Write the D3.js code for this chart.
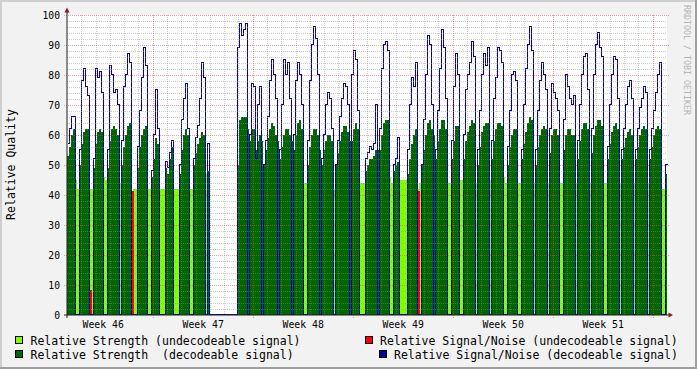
<!DOCTYPE html>
<html><head><meta charset="utf-8">
<script src="https://cdn.jsdelivr.net/npm/d3@7"></script>
<style>
html,body{margin:0;padding:0;background:#f2f2f2;}
svg{display:block;}
text{font-family:"DejaVu Sans Mono",monospace;}
</style>
</head><body>
<svg id="chart" width="697" height="369"></svg>
<script>
// ---- data (one value per RRD step of 3.36 h, 300 steps = 6 weeks) ----
const strength = [
53,56,60,62,45,42,50,57,61,62, 62,42,42,49,57,61,62,61,46,45,
49,58,62,63,62,60,44,50,56,60, 63,64,40,42,42,49,56,60,62,63,
42,42,46,52,59,57,42,42,42,49, 47,52,56,42,42,42,47,55,60,62,
60,42,42,50,54,57,59,61,60,47, 48,0,0,0,0,0,0,0,0,0,
0,0,0,0,0,50,65,66,66,66, 62,58,62,62,55,58,60,58,50,55,
59,62,64,63,60,58,52,56,60,62, 62,60,58,55,60,64,65,62,44,44,
50,56,60,62,62,60,55,50,55,58, 60,60,58,42,50,54,58,61,63,63,
61,58,58,62,64,62,44,44,44,48, 50,52,52,53,55,55,55,60,64,65,
65,46,44,48,50,51,45,45,45,45, 47,52,57,60,62,42,44,50,55,60,
64,65,62,60,52,58,62,65,65,62, 44,44,52,58,63,63,45,45,52,58,
61,63,65,64,44,50,56,61,63,64, 64,45,52,58,62,64,64,63,46,44,
50,56,60,62,62,44,44,52,57,61, 64,66,65,44,50,56,60,62,63,62,
44,54,60,62,62,60,44,44,55,60, 62,62,60,60,44,52,58,62,64,64,
62,44,54,60,63,65,65,63,44,44, 52,57,61,63,64,62,44,52,56,59,
61,62,60,44,52,56,60,62,63,62, 44,52,56,60,62,63,62,42,42,47
];
const snr = [
57,62,66,66,0,0,55,78,82,76, 73,8,0,52,82,79,81,74,0,0,
55,83,80,74,75,70,0,58,76,80, 87,84,41,0,0,56,68,79,89,83,
0,0,48,60,75,62,0,0,0,51, 49,54,58,0,0,0,50,65,72,77,
62,0,0,52,59,63,72,84,79,0, 57,0,0,0,0,0,0,0,0,0,
0,0,0,0,0,89,97,93,95,97, 0,60,77,76,52,70,76,0,50,58,
66,78,85,80,72,0,55,70,85,80, 84,72,0,60,78,84,80,70,0,0,
58,78,90,96,92,80,0,52,60,70, 74,72,62,0,50,58,66,72,77,76,
70,0,80,88,85,68,0,0,0,52, 54,56,55,57,70,0,62,82,90,91,
88,0,0,50,52,59,0,0,0,0, 55,70,79,76,84,41,0,50,65,80,
93,90,70,0,55,68,82,95,89,72, 0,0,58,76,87,80,0,0,60,75,
80,84,91,86,0,55,68,80,87,83, 89,0,58,72,79,89,88,84,0,0,
56,68,80,81,78,0,0,55,70,82, 90,96,88,0,55,68,78,84,80,75,
0,62,77,74,72,68,0,0,65,80, 76,72,70,73,0,58,70,80,86,87,
75,0,62,80,90,94,89,86,0,0, 56,70,80,86,85,72,0,55,62,70,
76,78,72,0,55,62,69,72,76,74, 0,55,62,68,74,80,84,0,0,50
];
const decodeable = [
1,1,1,1,0,0,1,1,1,1, 1,0,0,1,1,1,1,1,0,0,
1,1,1,1,1,1,0,1,1,1, 1,1,0,0,0,1,1,1,1,1,
0,0,1,1,1,1,0,0,0,1, 1,1,1,0,0,0,1,1,1,1,
1,0,0,1,1,1,1,1,1,0, 1,0,0,0,0,0,0,0,0,0,
0,0,0,0,0,1,1,1,1,1, 1,1,1,1,1,1,1,1,1,1,
1,1,1,1,1,1,1,1,1,1, 1,1,1,1,1,1,1,1,0,0,
1,1,1,1,1,1,1,1,1,1, 1,1,1,0,1,1,1,1,1,1,
1,1,1,1,1,1,0,0,0,1, 1,1,1,1,1,1,1,1,1,1,
1,0,0,1,1,1,0,0,0,0, 1,1,1,1,1,0,0,1,1,1,
1,1,1,1,1,1,1,1,1,1, 0,0,1,1,1,1,0,0,1,1,
1,1,1,1,0,1,1,1,1,1, 1,0,1,1,1,1,1,1,0,0,
1,1,1,1,1,0,0,1,1,1, 1,1,1,0,1,1,1,1,1,1,
0,1,1,1,1,1,0,0,1,1, 1,1,1,1,0,1,1,1,1,1,
1,0,1,1,1,1,1,1,0,0, 1,1,1,1,1,1,0,1,1,1,
1,1,1,0,1,1,1,1,1,1, 0,1,1,1,1,1,1,0,0,1
];
const yTickValues = [0,10,20,30,40,50,60,70,80,90,100];
const weekLabelPrefix = "Week ";
const legendLabels = [
  "Relative Strength (undecodeable signal)",
  "Relative Signal/Noise (undecodeable signal)",
  "Relative Strength  (decodeable signal)",
  "Relative Signal/Noise (decodeable signal)"
];
const startDate = new Date(2008, 10, 11);   // Tuesday of ISO week 46
const spanDays = 42;

// ---- styles ----
const C = {
  back:"#f2f2f2", canvas:"#ffffff", shadeA:"#cfcfcf", shadeB:"#9e9e9e",
  lightGreen:"#80ff00", darkGreen:"#006600", red:"#ff0000", blue:"#0000b0",
  grid:"#8f8f8f", mgrid:"#de5050", arrow:"#8b1a1a", axis:"#1f1f1f"
};
const legendColors = [C.lightGreen, C.red, C.darkGreen, "#000099"];

const W = 697, H = 369, L = 67, T = 15, PW = 600, PH = 300;
const svg = d3.select("#chart");
const endDate = d3.timeDay.offset(startDate, spanDays);
const x = d3.scaleTime().domain([startDate, endDate]).range([L, L + PW]);
const y = d3.scaleLinear().domain([0, 100]).range([T + PH, T]);
const n = strength.length;
const stepMs = (endDate - startDate) / n;
const slotTime = i => new Date(startDate.getTime() + i * stepMs);

// background + 3D frame
svg.append("rect").attr("width", W).attr("height", H).attr("fill", C.back);
svg.append("path").attr("fill", C.shadeA).attr("d", `M0,0H${W}V2H2V${H}H0Z`);
svg.append("path").attr("fill", C.shadeB).attr("d", `M${W},${H}H0V${H-2}H${W-2}V0H${W}Z`);
svg.append("rect").attr("x", L).attr("y", T).attr("width", PW).attr("height", PH).attr("fill", C.canvas);

// data points (extra final point closes the last step)
const pts = d3.range(n + 1).map(i => ({ t: slotTime(i), k: Math.min(i, n - 1) }));

const areaLight = d3.area().curve(d3.curveStepAfter)
  .x(p => x(p.t)).y0(y(0))
  .y1(p => decodeable[p.k] ? y(0) : y(strength[p.k]));
const areaDark = d3.area().curve(d3.curveStepAfter)
  .x(p => x(p.t)).y0(y(0))
  .y1(p => decodeable[p.k] ? y(strength[p.k]) : y(0));

const gData = svg.append("g");
gData.append("path").attr("d", areaLight(pts)).attr("fill", C.lightGreen).attr("shape-rendering", "crispEdges");
gData.append("path").attr("d", areaDark(pts)).attr("fill", C.darkGreen).attr("shape-rendering", "crispEdges");

// red: undecodeable S/N (only where a value exists)
const lineLin = d3.line().x(d => d[0]).y(d => d[1]);
d3.range(n).filter(i => !decodeable[i] && snr[i] > 0).forEach(i => {
  const x0 = x(slotTime(i)), x1 = x(slotTime(i + 1));
  const xm = Math.round((x0 + x1) / 2);
  gData.append("path")
    .attr("d", lineLin([[xm, y(0)], [xm, y(snr[i])], [xm + 1, y(snr[i])], [xm + 1, y(0)]]))
    .attr("fill", "none").attr("stroke", C.red).attr("stroke-width", 1)
    .attr("transform", "translate(0.5,-0.5)").attr("shape-rendering", "crispEdges");
});

// blue: decodeable S/N
const lineBlue = d3.line().curve(d3.curveStepAfter)
  .x(p => x(p.t)).y(p => y(decodeable[p.k] ? snr[p.k] : 0));
gData.append("path").attr("d", lineBlue(pts)).attr("fill", "none")
  .attr("stroke", C.blue).attr("stroke-width", 1)
  .attr("transform", "translate(0.5,-0.5)").attr("shape-rendering", "crispEdges");

// grid (drawn over data, as rrdtool does)
const gGrid = svg.append("g").attr("shape-rendering", "crispEdges");
const minorY = d3.range(2, 100, 2).filter(v => v % 10 !== 0);
gGrid.selectAll(".hmin").data(minorY).join("line")
  .attr("x1", L).attr("x2", L + PW)
  .attr("y1", v => y(v) + 0.5).attr("y2", v => y(v) + 0.5)
  .attr("stroke", C.grid).attr("stroke-opacity", 0.45).attr("stroke-dasharray", "1,1");
const days = d3.timeDay.range(d3.timeDay.offset(startDate, 1), endDate);
const mondays = d3.timeMonday.range(startDate, endDate);
const mondaySet = new Set(mondays.map(d => +d));
gGrid.selectAll(".vmin").data(days.filter(d => !mondaySet.has(+d))).join("line")
  .attr("x1", d => Math.round(x(d)) + 0.5).attr("x2", d => Math.round(x(d)) + 0.5)
  .attr("y1", T).attr("y2", T + PH)
  .attr("stroke", C.grid).attr("stroke-opacity", 0.45).attr("stroke-dasharray", "1,1");
gGrid.selectAll(".hmaj").data(yTickValues.filter(v => v > 0)).join("line")
  .attr("x1", L - 3).attr("x2", L + PW + 3)
  .attr("y1", v => y(v) + 0.5).attr("y2", v => y(v) + 0.5)
  .attr("stroke", C.mgrid).attr("stroke-opacity", 0.55).attr("stroke-dasharray", "1,1");
gGrid.selectAll(".vmaj").data(mondays).join("line")
  .attr("x1", d => Math.round(x(d)) + 0.5).attr("x2", d => Math.round(x(d)) + 0.5)
  .attr("y1", T).attr("y2", T + PH + 3)
  .attr("stroke", C.mgrid).attr("stroke-opacity", 0.55).attr("stroke-dasharray", "1,1");

// axes
svg.append("line").attr("x1", L - 3).attr("x2", L + PW + 4).attr("y1", T + PH).attr("y2", T + PH)
  .attr("stroke", C.axis).attr("stroke-width", 1);
svg.append("line").attr("x1", L).attr("x2", L).attr("y1", T + PH + 3).attr("y2", T - 5)
  .attr("stroke", C.axis).attr("stroke-width", 1);
svg.append("path").attr("fill", C.arrow).attr("d", `M${L-2.5},${T-2.5}L${L+2.5},${T-2.5}L${L},${T-7.5}Z`);
svg.append("path").attr("fill", C.arrow).attr("d", `M${L+PW+1.5},${T+PH-2.5}L${L+PW+1.5},${T+PH+2.5}L${L+PW+6},${T+PH}Z`);

// y tick labels
const yAxis = svg.append("g").attr("transform", `translate(${L},0)`)
  .call(d3.axisLeft(y).tickValues(yTickValues).tickSize(0).tickPadding(7));
yAxis.select(".domain").remove();
yAxis.selectAll("text").attr("font-size", "9.7px").attr("fill", "#000")
  .style("font-family", '"DejaVu Sans Mono", monospace');

// x week labels at mid-week
const weekStarts = d3.timeMonday.range(d3.timeMonday.floor(startDate), endDate);
const mids = weekStarts.map(m => new Date(m.getTime() + 3.5 * 864e5)).filter(d => d > startDate && d < endDate);
const fmtWeek = d3.timeFormat("%V");
const xAxis = svg.append("g").attr("transform", `translate(0,${T + PH})`)
  .call(d3.axisBottom(x).tickValues(mids).tickSize(0).tickPadding(6.5)
    .tickFormat(d => weekLabelPrefix + fmtWeek(d3.timeMonday.floor(d))));
xAxis.select(".domain").remove();
xAxis.selectAll("text").attr("font-size", "9.8px").attr("fill", "#000")
  .style("font-family", '"DejaVu Sans Mono", monospace');

// y title
svg.append("text").attr("transform", "translate(15,164.5) rotate(-90)")
  .attr("text-anchor", "middle").attr("font-size", "11.5px").attr("fill", "#000")
  .text("Relative Quality");

// watermark
svg.append("text").attr("transform", "translate(684,5) rotate(90)")
  .attr("font-size", "8.3px").attr("fill", "#b4b4b4")
  .text("RRDTOOL / TOBI OETIKER");

// legend
const legendPos = [
  { sx: 15, tx: 30.5, by: 345 },
  { sx: 365, tx: 380, by: 345 },
  { sx: 15, tx: 30.5, by: 359 },
  { sx: 379, tx: 394, by: 359 }
];
legendLabels.forEach((lab, i) => {
  const p = legendPos[i];
  svg.append("rect").attr("x", p.sx + 0.5).attr("y", p.by - 8.5).attr("width", 7).attr("height", 7)
    .attr("fill", legendColors[i]).attr("stroke", "#000").attr("stroke-width", 1)
    .attr("shape-rendering", "crispEdges");
  svg.append("text").attr("x", p.tx).attr("y", p.by).attr("font-size", "11.5px")
    .attr("fill", "#000").style("white-space", "pre").attr("xml:space", "preserve").text(lab);
});
</script>
</body></html>
